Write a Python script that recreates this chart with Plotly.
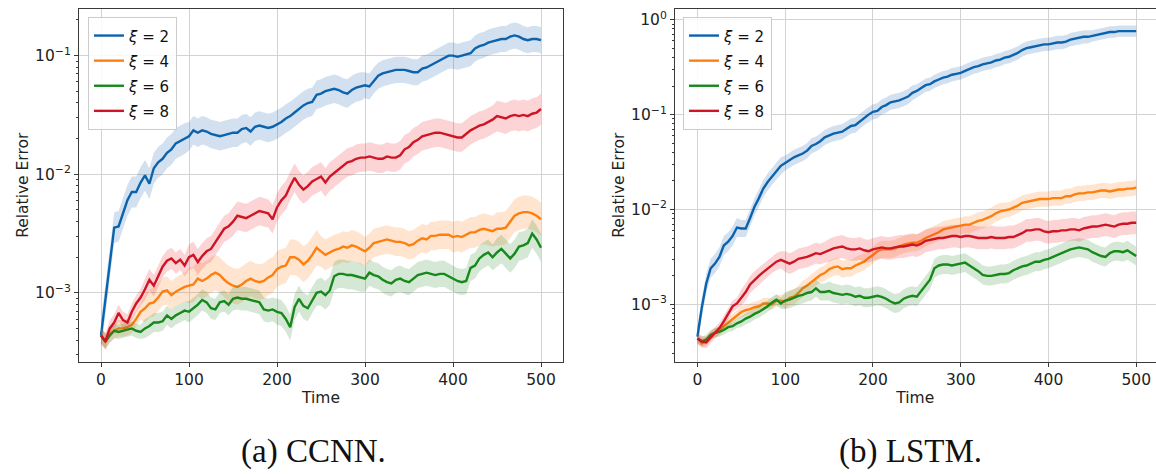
import plotly.graph_objects as go

# ---------------- data (log10 of relative error) ----------------
time = list(range(0, 505, 5))

ccnn_xi2 = [-3.36, -3.05, -2.75, -2.45, -2.44, -2.33, -2.22, -2.15, -2.15, -2.07,
            -2.01, -2.08, -1.95, -1.90, -1.87, -1.82, -1.79, -1.74, -1.72, -1.70,
            -1.68, -1.63, -1.65, -1.63, -1.64, -1.66, -1.67, -1.68, -1.67, -1.66,
            -1.65, -1.65, -1.62, -1.61, -1.64, -1.60, -1.59, -1.60, -1.61, -1.60,
            -1.58, -1.56, -1.53, -1.51, -1.48, -1.45, -1.42, -1.40, -1.39, -1.33,
            -1.32, -1.30, -1.29, -1.28, -1.29, -1.31, -1.32, -1.29, -1.27, -1.26,
            -1.25, -1.26, -1.21, -1.17, -1.15, -1.14, -1.13, -1.12, -1.12, -1.12,
            -1.13, -1.14, -1.14, -1.11, -1.10, -1.08, -1.06, -1.04, -1.02, -1.00,
            -1.00, -1.01, -1.00, -0.99, -0.98, -0.94, -0.92, -0.91, -0.89, -0.88,
            -0.87, -0.86, -0.86, -0.84, -0.83, -0.84, -0.86, -0.87, -0.86, -0.86,
            -0.87]
ccnn_xi4 = [-3.36, -3.41, -3.35, -3.32, -3.30, -3.30, -3.29, -3.27, -3.22, -3.16,
            -3.13, -3.09, -3.08, -3.04, -2.99, -2.98, -3.02, -2.99, -2.97, -2.95,
            -2.94, -2.93, -2.88, -2.90, -2.88, -2.85, -2.83, -2.85, -2.89, -2.92,
            -2.94, -2.95, -2.93, -2.90, -2.88, -2.90, -2.91, -2.90, -2.87, -2.85,
            -2.80, -2.78, -2.77, -2.70, -2.70, -2.72, -2.76, -2.73, -2.68, -2.62,
            -2.65, -2.68, -2.66, -2.64, -2.63, -2.61, -2.62, -2.60, -2.61, -2.63,
            -2.65, -2.62, -2.58, -2.57, -2.56, -2.55, -2.56, -2.57, -2.57, -2.58,
            -2.60, -2.59, -2.56, -2.54, -2.55, -2.52, -2.52, -2.51, -2.51, -2.51,
            -2.53, -2.52, -2.53, -2.51, -2.49, -2.49, -2.47, -2.46, -2.47, -2.48,
            -2.46, -2.46, -2.45, -2.40, -2.35, -2.33, -2.32, -2.32, -2.33, -2.35,
            -2.38]
ccnn_xi6 = [-3.36, -3.41, -3.36, -3.32, -3.33, -3.32, -3.31, -3.30, -3.32, -3.33,
            -3.30, -3.28, -3.25, -3.25, -3.24, -3.19, -3.22, -3.19, -3.17, -3.15,
            -3.16, -3.13, -3.10, -3.06, -3.08, -3.13, -3.14, -3.08, -3.07, -3.10,
            -3.05, -3.04, -3.05, -3.05, -3.06, -3.07, -3.08, -3.14, -3.15, -3.14,
            -3.16, -3.17, -3.22, -3.29, -3.12, -3.05, -3.11, -3.13, -3.06, -3.00,
            -2.99, -3.02, -2.98, -2.86, -2.84, -2.84, -2.85, -2.85, -2.86, -2.87,
            -2.88, -2.83, -2.85, -2.86, -2.89, -2.91, -2.92, -2.89, -2.88, -2.90,
            -2.91, -2.88, -2.85, -2.84, -2.83, -2.84, -2.85, -2.84, -2.84, -2.86,
            -2.88, -2.90, -2.91, -2.90, -2.79, -2.77, -2.71, -2.68, -2.66, -2.70,
            -2.66, -2.63, -2.67, -2.71, -2.67, -2.61, -2.60, -2.58, -2.50, -2.55,
            -2.62]
ccnn_xi8 = [-3.36, -3.41, -3.30, -3.25, -3.17, -3.23, -3.25, -3.16, -3.09, -3.04,
            -2.97, -2.89, -2.94, -2.86, -2.78, -2.73, -2.71, -2.75, -2.72, -2.77,
            -2.70, -2.68, -2.74, -2.69, -2.65, -2.63, -2.57, -2.52, -2.46, -2.44,
            -2.40, -2.35, -2.36, -2.37, -2.35, -2.33, -2.31, -2.32, -2.33, -2.38,
            -2.28, -2.22, -2.18, -2.10, -2.03, -2.09, -2.13, -2.10, -2.06, -2.04,
            -2.02, -2.07, -2.02, -1.99, -1.96, -1.93, -1.90, -1.89, -1.87, -1.86,
            -1.86, -1.85, -1.86, -1.87, -1.87, -1.85, -1.86, -1.86, -1.84, -1.79,
            -1.77, -1.73, -1.71, -1.68, -1.67, -1.66, -1.65, -1.65, -1.66, -1.67,
            -1.68, -1.69, -1.69, -1.66, -1.63, -1.61, -1.59, -1.58, -1.56, -1.54,
            -1.51, -1.52, -1.53, -1.51, -1.50, -1.51, -1.50, -1.51, -1.49, -1.48,
            -1.45]

lstm_xi2 = [-3.34, -3.03, -2.78, -2.62, -2.57, -2.50, -2.38, -2.34, -2.28, -2.19,
            -2.20, -2.20, -2.09, -1.97, -1.88, -1.78, -1.71, -1.65, -1.59, -1.54,
            -1.51, -1.48, -1.45, -1.43, -1.41, -1.38, -1.33, -1.31, -1.28, -1.24,
            -1.22, -1.20, -1.19, -1.18, -1.15, -1.12, -1.11, -1.07, -1.03, -1.00,
            -0.97, -0.96, -0.92, -0.90, -0.87, -0.86, -0.85, -0.83, -0.81, -0.77,
            -0.75, -0.72, -0.69, -0.68, -0.65, -0.63, -0.61, -0.60, -0.58, -0.57,
            -0.56, -0.54, -0.52, -0.50, -0.49, -0.47, -0.46, -0.45, -0.43, -0.42,
            -0.40, -0.39, -0.37, -0.35, -0.32, -0.30, -0.29, -0.28, -0.27, -0.26,
            -0.26, -0.25, -0.24, -0.24, -0.23, -0.21, -0.20, -0.19, -0.18, -0.18,
            -0.17, -0.16, -0.15, -0.14, -0.13, -0.13, -0.12, -0.12, -0.12, -0.12,
            -0.12]
lstm_xi4 = [-3.36, -3.41, -3.39, -3.33, -3.30, -3.28, -3.23, -3.19, -3.16, -3.11,
            -3.08, -3.06, -3.05, -3.03, -3.02, -2.99, -2.99, -3.00, -2.96, -2.96,
            -2.97, -2.93, -2.92, -2.88, -2.83, -2.80, -2.76, -2.72, -2.69, -2.67,
            -2.63, -2.61, -2.60, -2.63, -2.62, -2.62, -2.59, -2.57, -2.55, -2.51,
            -2.48, -2.44, -2.42, -2.42, -2.42, -2.41, -2.39, -2.37, -2.36, -2.35,
            -2.35, -2.33, -2.30, -2.28, -2.26, -2.24, -2.21, -2.20, -2.19, -2.18,
            -2.17, -2.16, -2.16, -2.14, -2.12, -2.11, -2.09, -2.07, -2.04, -2.02,
            -2.01, -2.00, -1.98, -1.96, -1.93, -1.92, -1.91, -1.90, -1.89, -1.89,
            -1.89, -1.88, -1.88, -1.88, -1.86, -1.86, -1.84, -1.83, -1.83, -1.82,
            -1.82, -1.81, -1.80, -1.80, -1.81, -1.80, -1.79, -1.79, -1.78, -1.78,
            -1.77]
lstm_xi6 = [-3.36, -3.39, -3.37, -3.32, -3.30, -3.29, -3.27, -3.24, -3.23, -3.20,
            -3.18, -3.15, -3.13, -3.10, -3.08, -3.05, -3.02, -2.98, -2.95, -2.99,
            -2.96, -2.95, -2.93, -2.91, -2.90, -2.88, -2.87, -2.83, -2.87, -2.87,
            -2.86, -2.88, -2.89, -2.90, -2.89, -2.90, -2.92, -2.91, -2.93, -2.93,
            -2.92, -2.91, -2.92, -2.94, -2.97, -2.99, -2.98, -2.94, -2.92, -2.91,
            -2.92, -2.86, -2.80, -2.74, -2.62, -2.59, -2.58, -2.58, -2.59, -2.58,
            -2.57, -2.56, -2.59, -2.62, -2.65, -2.69, -2.70, -2.70, -2.69, -2.68,
            -2.68, -2.67, -2.64, -2.62, -2.60, -2.59, -2.57, -2.55, -2.55, -2.53,
            -2.52, -2.50, -2.48, -2.46, -2.44, -2.42, -2.41, -2.40, -2.41, -2.42,
            -2.45, -2.47, -2.49, -2.50, -2.46, -2.44, -2.44, -2.45, -2.43, -2.46,
            -2.49]
lstm_xi8 = [-3.36, -3.39, -3.40, -3.35, -3.30, -3.25, -3.18, -3.10, -3.02, -2.99,
            -2.93, -2.87, -2.79, -2.74, -2.70, -2.66, -2.62, -2.58, -2.55, -2.53,
            -2.55, -2.57, -2.55, -2.52, -2.51, -2.50, -2.48, -2.46, -2.47, -2.45,
            -2.43, -2.41, -2.40, -2.39, -2.41, -2.42, -2.42, -2.41, -2.43, -2.44,
            -2.42, -2.41, -2.40, -2.41, -2.41, -2.40, -2.39, -2.39, -2.38, -2.37,
            -2.38, -2.36, -2.33, -2.32, -2.31, -2.30, -2.30, -2.29, -2.28, -2.28,
            -2.29, -2.28, -2.28, -2.29, -2.30, -2.30, -2.30, -2.29, -2.30, -2.30,
            -2.30, -2.29, -2.29, -2.27, -2.25, -2.22, -2.22, -2.21, -2.21, -2.23,
            -2.24, -2.23, -2.23, -2.22, -2.22, -2.21, -2.21, -2.22, -2.20, -2.19,
            -2.18, -2.18, -2.17, -2.16, -2.17, -2.18, -2.16, -2.15, -2.15, -2.14,
            -2.14]

# shaded-band half widths (decades), one value per 50-step segment of time
ccnn_band = {
    "2": [0.13, 0.13, 0.12, 0.12, 0.12, 0.12, 0.11, 0.11, 0.11, 0.11],
    "4": [0.07, 0.12, 0.15, 0.15, 0.15, 0.13, 0.12, 0.12, 0.13, 0.14],
    "6": [0.06, 0.08, 0.09, 0.10, 0.11, 0.12, 0.11, 0.11, 0.11, 0.12],
    "8": [0.07, 0.09, 0.11, 0.12, 0.12, 0.12, 0.12, 0.12, 0.12, 0.13],
}
lstm_band = {
    "2": [0.10, 0.09, 0.08, 0.08, 0.08, 0.07, 0.07, 0.07, 0.07, 0.06],
    "4": [0.05, 0.06, 0.08, 0.09, 0.09, 0.09, 0.09, 0.08, 0.08, 0.08],
    "6": [0.05, 0.06, 0.09, 0.10, 0.10, 0.10, 0.10, 0.10, 0.10, 0.10],
    "8": [0.06, 0.09, 0.11, 0.12, 0.12, 0.12, 0.12, 0.12, 0.12, 0.12],
}

xi_labels = ["2", "4", "6", "8"]
colors = {"2": "#0b63ad", "4": "#ff7f0e", "6": "#16891a", "8": "#cf1423"}
fills = {"2": "rgba(31,100,180,0.2)", "4": "rgba(255,127,14,0.2)",
         "6": "rgba(44,140,44,0.2)", "8": "rgba(240,40,50,0.2)"}
x_ticks = [0, 100, 200, 300, 400, 500]
captions = ["(a) CCNN.", "(b) LSTM."]

W, H = 1156, 474

fig = go.Figure()


def add_panel(series, bands, xa, ya, legend):
    for key in xi_labels:
        logs = series[key]
        hw = [bands[key][min(int(t // 50), 9)] for t in time]
        upper = [10 ** (v + h) for v, h in zip(logs, hw)]
        lower = [10 ** (v - h) for v, h in zip(logs, hw)]
        fig.add_trace(go.Scatter(
            x=time + time[::-1], y=upper + lower[::-1], fill="toself",
            fillcolor=fills[key], line=dict(width=0), mode="lines",
            hoverinfo="skip", showlegend=False, xaxis=xa, yaxis=ya))
        fig.add_trace(go.Scatter(
            x=time, y=[10 ** v for v in logs], mode="lines",
            line=dict(color=colors[key], width=2.4),
            name="<span style='font-size:15px'><i>ξ</i> = " + key + "</span>",
            legend=legend, xaxis=xa, yaxis=ya))


add_panel({"2": ccnn_xi2, "4": ccnn_xi4, "6": ccnn_xi6, "8": ccnn_xi8},
          ccnn_band, "x", "y", "legend")
add_panel({"2": lstm_xi2, "4": lstm_xi4, "6": lstm_xi6, "8": lstm_xi8},
          lstm_band, "x2", "y2", "legend2")

axis_font = dict(family="DejaVu Sans", size=15.5, color="#222222")
common = dict(showline=True, linecolor="#3a3a3a", linewidth=1.2, mirror=True,
              ticks="outside", ticklen=4, tickwidth=1.1, tickcolor="#3a3a3a",
              showgrid=True, gridcolor="#d3d3d3", gridwidth=1.2, zeroline=False,
              tickfont=axis_font, automargin=False)

minor_vals = [m * 10 ** e for e in range(-4, 1) for m in range(2, 10)]


def xaxis(domain, rng):
    return dict(common, domain=domain, range=rng, tickvals=x_ticks,
                title=dict(text="Time", font=axis_font, standoff=3))


def yaxis(anchor, rng, decades):
    return dict(common, anchor=anchor, type="log", range=rng,
                domain=[(H - 361.5) / H, (H - 9) / H],
                tickvals=[10 ** d for d in decades],
                ticktext=["10<sup>" + ("−" + str(-d) if d < 0 else str(d)) + "</sup>" for d in decades],
                minor=dict(tickvals=minor_vals, ticks="outside", ticklen=2.2,
                           tickcolor="#3a3a3a", showgrid=False),
                title=dict(text="Relative Error", font=axis_font, standoff=2))


legend_style = dict(xanchor="left", yanchor="top", bgcolor="rgba(255,255,255,0.85)",
                    bordercolor="#cccccc", borderwidth=1,
                    font=dict(family="DejaVu Sans", size=17, color="#111111"),
                    tracegroupgap=0)

cap_font = dict(family="Liberation Serif", size=33, color="#111111")

fig.update_layout(
    width=W, height=H, margin=dict(l=0, r=0, t=0, b=0, autoexpand=False),
    paper_bgcolor="white", plot_bgcolor="white",
    xaxis=xaxis([79 / W, 563 / W], [-25, 525]),
    yaxis=yaxis("x", [-3.579, -0.607], [-3, -2, -1]),
    xaxis2=dict(xaxis([675 / W, 1155.5 / W], [-25.6, 522]), anchor="y2"),
    yaxis2=yaxis("x2", [-3.602, 0.113], [-3, -2, -1, 0]),
    legend=dict(legend_style, x=88 / W, y=1 - 17 / H),
    legend2=dict(legend_style, x=683 / W, y=1 - 17 / H),
    annotations=[
        dict(text=captions[0], x=313 / W, y=0.004, xref="paper", yref="paper",
             xanchor="center", yanchor="bottom", showarrow=False, font=cap_font),
        dict(text=captions[1], x=910 / W, y=0.004, xref="paper", yref="paper",
             xanchor="center", yanchor="bottom", showarrow=False, font=cap_font),
    ],
)

fig.write_html("out.html", config={"displayModeBar": False},
               post_script="document.body.style.margin='0';")
